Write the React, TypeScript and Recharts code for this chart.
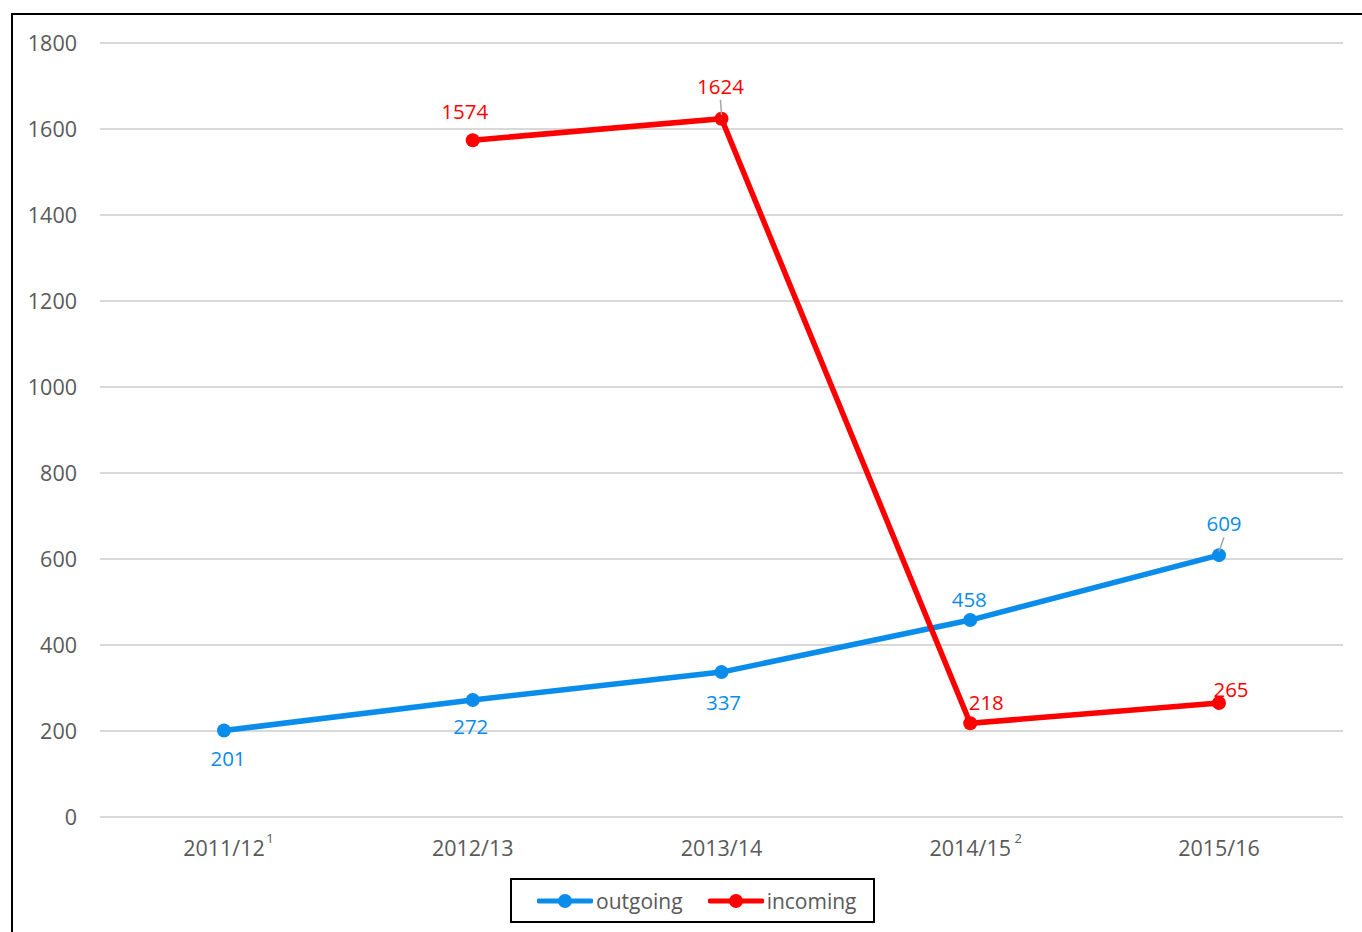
import React from 'react';
import { LineChart, Line, XAxis, YAxis, CartesianGrid, LabelList, Legend } from 'recharts';

const categories = ['2011/12', '2012/13', '2013/14', '2014/15', '2015/16'];
const footnotes = ['1', '', '', '2', ''];
const outgoing = [201, 272, 337, 458, 609];
const incoming: (number | null)[] = [null, 1574, 1624, 218, 265];
const yTicks = [0, 200, 400, 600, 800, 1000, 1200, 1400, 1600, 1800];
const seriesNames = ['outgoing', 'incoming'];

const BLUE = '#0A8CEB';
const RED = '#FF0000';
const GRAY = '#595959';
const FONT = '"Open Sans", sans-serif';

const data = categories.map((c, i) => ({
  name: c,
  foot: footnotes[i],
  outgoing: outgoing[i],
  incoming: incoming[i],
}));

// label placement (dx, dy from point; leader = draw a small leader line)
const outLabelPos = [
  { dx: 4, dy: 27 },
  { dx: -2, dy: 26 },
  { dx: 2, dy: 30 },
  { dx: -1, dy: -21 },
  { dx: 5, dy: -32, leader: true },
];
const inLabelPos = [
  { dx: 0, dy: -29 },
  { dx: -8, dy: -29 },
  { dx: -1, dy: -33, leader: true },
  { dx: 16, dy: -21 },
  { dx: 12, dy: -14 },
];

const makeLabel = (pos: any[], color: string) => (props: any) => {
  const { x, y, value, index } = props;
  if (value == null || x == null || y == null) return null;
  const p = pos[index];
  const lx = x + p.dx;
  const ly = y + p.dy;
  return (
    <g>
      {p.leader && (
        <line x1={lx} y1={ly + 14} x2={x} y2={y - 4} stroke="#A6A6A6" strokeWidth={1.5} />
      )}
      <text
        x={lx}
        y={ly}
        textAnchor="middle"
        dominantBaseline="central"
        fill={color}
        fontSize={20.5}
        fontFamily={FONT}
      >
        {value}
      </text>
    </g>
  );
};

const XTick = (props: any) => {
  const { x, y, payload, index } = props;
  const foot = footnotes[index];
  const supOffset = index === 3 ? 48 : 46;
  return (
    <g>
      <text
        x={x}
        y={y + 30}
        textAnchor="middle"
        dominantBaseline="central"
        fill={GRAY}
        fontSize={21.5}
        fontFamily={FONT}
      >
        {payload.value}
      </text>
      {foot && (
        <text
          x={x + supOffset}
          y={y + 21}
          textAnchor="middle"
          dominantBaseline="central"
          fill={GRAY}
          fontSize={13}
          fontFamily={FONT}
        >
          {foot}
        </text>
      )}
    </g>
  );
};

const YTick = (props: any) => {
  const { y, payload } = props;
  return (
    <text
      x={77}
      y={y - 1}
      textAnchor="end"
      dominantBaseline="central"
      fill={GRAY}
      fontSize={21.5}
      fontFamily={FONT}
    >
      {payload.value}
    </text>
  );
};

const LegendContent = () => {
  const colors = [BLUE, RED];
  return (
    <div
      style={{
        boxSizing: 'border-box',
        width: 365,
        height: 45,
        border: '2px solid #000',
        display: 'flex',
        alignItems: 'center',
        paddingLeft: 25,
        fontFamily: FONT,
        fontSize: 21,
        color: GRAY,
        background: '#fff',
      }}
    >
      {seriesNames.map((n, i) => (
        <div key={n} style={{ display: 'flex', alignItems: 'center', marginRight: i === 0 ? 25 : 0 }}>
          <svg width={56} height={16} style={{ display: 'block' }}>
            <line x1={2} y1={8} x2={54} y2={8} stroke={colors[i]} strokeWidth={5} strokeLinecap="round" />
            <circle cx={28} cy={8} r={7} fill={colors[i]} />
          </svg>
          <span style={{ marginLeft: 3, lineHeight: '20px' }}>{n}</span>
        </div>
      ))}
    </div>
  );
};

export default function App() {
  return (
    <div style={{ position: 'fixed', inset: 0, overflow: 'hidden', background: '#fff' }}>
      <div
        style={{
          position: 'absolute',
          left: 11,
          top: 13,
          width: 1400,
          height: 1000,
          border: '2px solid #000',
          boxSizing: 'border-box',
        }}
      />
      <div style={{ position: 'absolute', left: 0, top: 0 }}>
        <LineChart
          width={1362}
          height={932}
          data={data}
          margin={{ top: 43, right: 19, bottom: 85, left: 0 }}
        >
          <CartesianGrid vertical={false} stroke="#D9D9D9" strokeWidth={2} />
          <XAxis
            dataKey="name"
            axisLine={false}
            tickLine={false}
            tickSize={0}
            tickMargin={0}
            height={30}
            padding={{ left: 124, right: 124 }}
            tick={<XTick />}
            interval={0}
          />
          <YAxis
            width={100}
            domain={[0, 1800]}
            ticks={yTicks}
            axisLine={false}
            tickLine={false}
            tick={<YTick />}
            interval={0}
          />
          <Legend
            layout="horizontal"
            verticalAlign="middle"
            align="center"
            content={<LegendContent />}
            wrapperStyle={{ position: 'absolute', left: 510, top: 878, width: 365, height: 45 }}
          />
          <Line
            dataKey="outgoing"
            name="outgoing"
            stroke={BLUE}
            strokeWidth={5.5}
            dot={{ r: 7, fill: BLUE, stroke: BLUE, strokeWidth: 0 }}
            activeDot={false}
            isAnimationActive={false}
          >
            <LabelList dataKey="outgoing" content={makeLabel(outLabelPos, BLUE)} />
          </Line>
          <Line
            dataKey="incoming"
            name="incoming"
            stroke={RED}
            strokeWidth={5.5}
            dot={{ r: 7, fill: RED, stroke: RED, strokeWidth: 0 }}
            activeDot={false}
            isAnimationActive={false}
          >
            <LabelList dataKey="incoming" content={makeLabel(inLabelPos, RED)} />
          </Line>
        </LineChart>
      </div>
    </div>
  );
}
